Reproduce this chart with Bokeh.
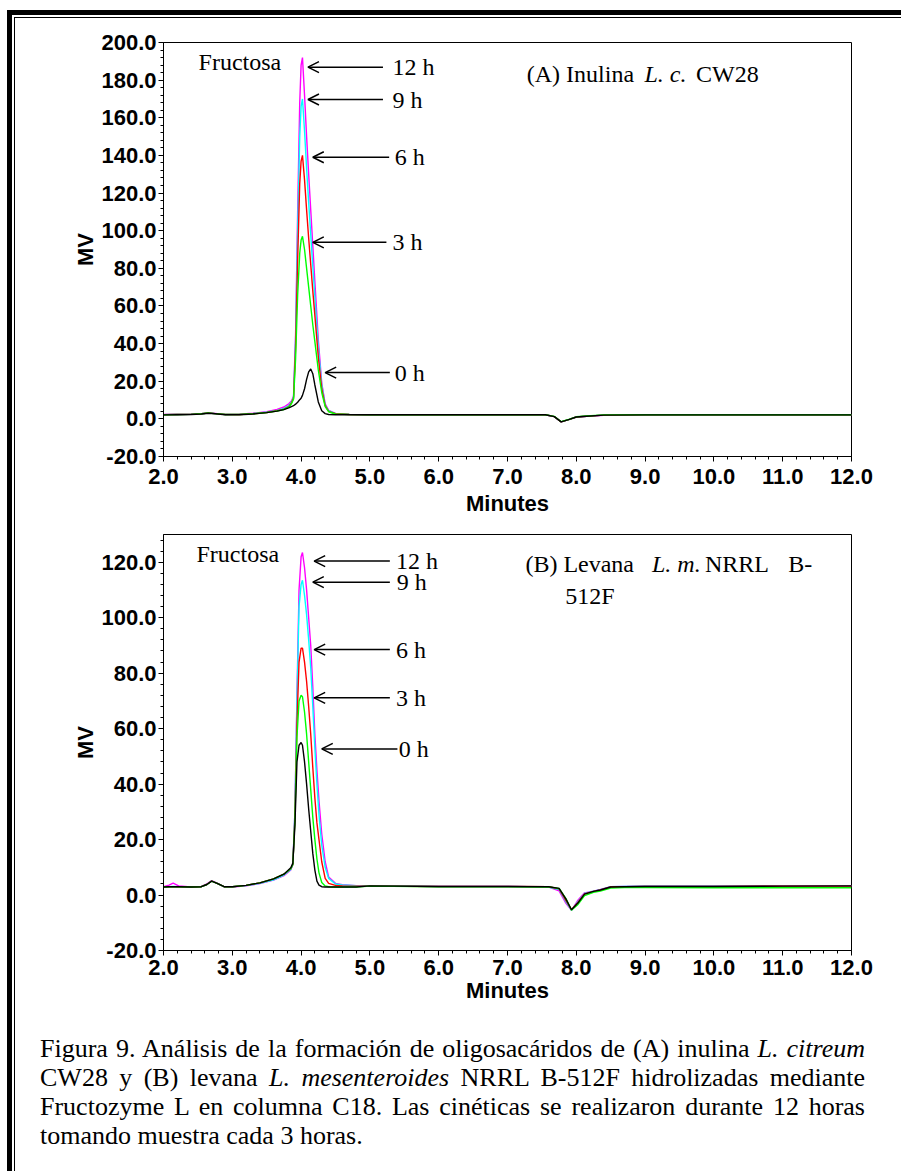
from bokeh.plotting import figure
from bokeh.models import (Range1d, SingleIntervalTicker, NumeralTickFormatter,
                          Arrow, OpenHead, Div, ColumnDataSource)
from bokeh.layouts import column
from bokeh.embed import file_html
from bokeh.resources import INLINE
from bokeh.core.properties import value

SERIF = "Liberation Serif"
SANS = "Liberation Sans"

# ---------------- Data: chart (A) Inulina ----------------
xa = [2.0, 2.2, 2.4, 2.55, 2.65, 2.75, 2.9, 3.1, 3.3, 3.5, 3.65, 3.75, 3.82,
      3.86, 3.89, 3.92, 3.95, 3.98, 4.0, 4.02, 4.05, 4.08, 4.11, 4.14, 4.17, 4.2,
      4.25, 4.3, 4.35, 4.4, 4.5, 4.7, 5.0,
      6.0, 7.0, 7.55, 7.68, 7.78, 7.9, 8.0, 8.15, 8.4, 9.0, 10.0, 11.0, 12.0]
a_12h = [2.3, 2.5, 2.5, 2.8, 3.2, 2.9, 2.4, 2.5, 3.0, 3.8, 5.0, 6.3, 8.0,
         9.5, 12, 45, 110, 168, 188, 192, 172, 150, 130, 111, 92, 73,
         42, 19, 8, 4.5, 2.9, 2.4, 2.2,
         2.2, 2.2, 2.2, 1.2, -1.6, -0.3, 1.0, 1.4, 1.9, 2.0, 2.0, 2.0, 2.0]
a_9h = [2.2, 2.3, 2.4, 2.7, 3.1, 2.8, 2.3, 2.4, 2.8, 3.5, 4.5, 5.6, 7.0,
        9.0, 11.5, 42, 100, 150, 166, 170, 153, 133, 115, 98, 81, 65,
        38, 18, 7.5, 4.3, 2.8, 2.4, 2.2,
        2.2, 2.2, 2.2, 1.2, -1.6, -0.3, 1.0, 1.4, 2.0, 2.1, 2.1, 2.1, 2.1]
a_6h = [2.2, 2.3, 2.4, 2.7, 3.1, 2.8, 2.3, 2.3, 2.7, 3.4, 4.3, 5.2, 6.5,
        8.5, 11, 38, 85, 125, 137, 140, 127, 111, 96, 82, 68, 55,
        33, 16, 7, 4, 2.7, 2.3, 2.2,
        2.2, 2.2, 2.2, 1.2, -1.6, -0.3, 1.0, 1.4, 2.0, 2.1, 2.1, 2.1, 2.1]
a_3h = [2.2, 2.3, 2.4, 2.7, 3.1, 2.8, 2.3, 2.3, 2.7, 3.4, 4.2, 5.0, 6.2,
        8.0, 10.5, 32, 66, 88, 95, 97, 90, 80, 70, 60, 50, 41,
        26, 14, 6.5, 3.8, 2.6, 2.3, 2.2,
        2.2, 2.2, 2.2, 1.3, -1.5, -0.2, 1.1, 1.5, 2.1, 2.2, 2.2, 2.2, 2.2]
a_0h = [2.1, 2.2, 2.3, 2.6, 3.0, 2.7, 2.2, 2.2, 2.6, 3.3, 4.1, 4.9, 5.8,
        6.5, 7.0, 7.8, 8.8, 10.2, 11.0, 12.5, 16, 21, 25, 26.5, 24, 18,
        9, 4.3, 2.8, 2.3, 2.2, 2.2, 2.2,
        2.2, 2.2, 2.2, 1.2, -1.6, -0.3, 1.0, 1.4, 2.0, 2.1, 2.1, 2.1, 2.1]

# ---------------- Data: chart (B) Levana ----------------
xb = [2.0, 2.08, 2.14, 2.22, 2.4, 2.55, 2.63, 2.7, 2.78, 2.88, 3.0, 3.2, 3.4, 3.6, 3.75, 3.85,
      3.88, 3.91, 3.94, 3.97, 4.0, 4.02, 4.05, 4.08, 4.11, 4.14, 4.17, 4.2, 4.23, 4.26,
      4.3, 4.35, 4.4, 4.5, 4.6, 4.8,
      5.0, 6.0, 7.0, 7.6, 7.75, 7.85, 7.93, 8.02, 8.12, 8.25, 8.35, 8.5, 8.7, 9.0, 10.0, 11.0, 12.0]
b_12h = [3.0, 3.6, 4.3, 3.3, 2.9, 3.1, 4.0, 5.2, 4.3, 3.0, 2.9, 3.3, 4.1, 5.4, 7.0, 9.0,
         11, 30, 72, 110, 122, 123.5, 118, 110, 100, 90, 75, 58, 45, 34,
         22, 12, 6.5, 4.2, 3.7, 3.4,
         3.3, 3.1, 3.1, 2.9, 1.5, -3.0, -5.5, -2.0, 0.8, 1.4, 2.0, 3.0, 3.1, 3.2, 3.2, 3.2, 3.3]
b_9h = [2.9, 3.0, 3.1, 3.0, 2.9, 3.0, 3.8, 5.0, 4.2, 3.0, 3.0, 3.4, 4.2, 5.5, 7.2, 9.2,
        11, 30, 70, 104, 112, 113.5, 108, 101, 92, 82, 68, 53, 40, 29,
        18, 10, 6, 4.0, 3.6, 3.4,
        3.3, 3.1, 3.1, 2.9, 2.0, -2.5, -5.4, -2.5, 0.6, 1.4, 1.9, 3.0, 3.1, 3.2, 3.2, 3.2, 3.3]
b_6h = [2.9, 3.0, 3.0, 3.0, 2.9, 3.0, 3.8, 5.0, 4.2, 3.0, 3.0, 3.5, 4.4, 5.8, 7.5, 9.5,
        11, 28, 62, 84, 89, 89, 84, 77, 68, 58, 46, 35, 26, 20,
        12, 6, 4.2, 3.5, 3.3, 3.2,
        3.2, 3.1, 3.1, 3.0, 2.2, -2.0, -5.3, -2.8, 0.4, 1.3, 1.8, 2.9, 3.0, 3.1, 3.1, 3.2, 3.2]
b_3h = [2.9, 3.0, 3.0, 3.0, 2.9, 3.0, 3.8, 5.0, 4.2, 3.0, 3.0, 3.5, 4.4, 5.8, 7.5, 9.5,
        11, 27, 57, 70, 72, 71.5, 66, 58, 48, 38, 28, 20, 13, 8,
        4.5, 3.3, 3.0, 2.9, 2.9, 2.9,
        3.2, 3.0, 3.0, 2.9, 2.4, -1.3, -5.5, -3.5, -0.2, 1.0, 1.4, 2.5, 2.7, 2.7, 2.6, 2.6, 2.6]
b_0h = [2.9, 3.0, 3.0, 3.0, 2.9, 3.0, 3.8, 5.0, 4.2, 3.0, 3.0, 3.5, 4.4, 5.8, 7.5, 9.8,
        11.5, 25, 48, 54, 55, 54, 48, 40, 31, 23, 15, 9, 5, 3.6,
        3.0, 2.9, 2.9, 2.9, 2.9, 2.9,
        3.3, 3.1, 3.1, 3.0, 2.4, -1.5, -5.3, -3.0, 0.3, 1.3, 1.8, 2.9, 3.0, 3.1, 3.1, 3.2, 3.3]

series_names = ["12 h", "9 h", "6 h", "3 h", "0 h"]
series_colors = ["#ff00ff", "#00ffff", "#ff0000", "#00ff00", "#000000"]

# arrow annotations (tail x, head x, y, text x)
a_arrow_y = [186.9, 169.7, 139.0, 93.8, 24.6]
a_arrow_head = [4.10, 4.10, 4.17, 4.17, 4.35]
a_arrow_tail = [5.19, 5.19, 5.28, 5.24, 5.29]
a_label_x = [5.33, 5.33, 5.36, 5.33, 5.36]

b_arrow_y = [120.4, 112.8, 88.5, 71.1, 52.7]
b_arrow_head = [4.19, 4.17, 4.19, 4.19, 4.30]
b_arrow_tail = [5.29, 5.29, 5.29, 5.29, 5.40]
b_label_x = [5.38, 5.39, 5.38, 5.38, 5.42]


def style_axes(p, xlab_standoff, xaxis_standoff):
    for ax in (p.xaxis[0], p.yaxis[0]):
        ax.axis_line_color = "black"
        ax.axis_line_width = 1
        ax.major_tick_line_color = "black"
        ax.minor_tick_line_color = "black"
        ax.major_tick_in = 0
        ax.major_tick_out = 5
        ax.minor_tick_in = 0
        ax.minor_tick_out = 3
        ax.major_label_text_font = SANS
        ax.major_label_text_font_style = "bold"
        ax.major_label_text_font_size = "22px"
        ax.major_label_text_color = "black"
        ax.axis_label_text_font = SANS
        ax.axis_label_text_font_style = "bold"
        ax.axis_label_text_font_size = "22px"
        ax.axis_label_text_color = "black"
        ax.formatter = NumeralTickFormatter(format="0.0")
    p.xaxis[0].ticker = SingleIntervalTicker(interval=1, num_minor_ticks=5)
    p.yaxis[0].ticker = SingleIntervalTicker(interval=20, num_minor_ticks=5)
    p.xaxis[0].major_label_standoff = xlab_standoff
    p.xaxis[0].axis_label_standoff = xaxis_standoff
    p.yaxis[0].major_label_standoff = 2
    p.yaxis[0].axis_label_standoff = 0
    p.xaxis[0].axis_label = "Minutes"
    p.yaxis[0].axis_label = "MV"


def make_chart(xs, ys_list, ymax, height, top, bottom, xls, xas,
               arr_y, arr_head, arr_tail, lab_x):
    p = figure(width=886, height=height, x_range=Range1d(2, 12), y_range=Range1d(-20, ymax),
               output_backend="svg", toolbar_location=None,
               min_border_left=148, min_border_right=50,
               min_border_top=top, min_border_bottom=bottom)
    p.grid.visible = False
    p.outline_line_color = "black"
    p.outline_line_width = 1
    p.background_fill_color = "white"
    p.border_fill_color = "white"
    style_axes(p, xls, xas)
    for ys, c in zip(ys_list, series_colors):
        p.line(xs, ys, line_color=c, line_width=1.4)
    for i in range(len(arr_y)):
        p.add_layout(Arrow(end=OpenHead(size=11, line_width=1.5, line_color="black"),
                           x_start=arr_tail[i], y_start=arr_y[i],
                           x_end=arr_head[i], y_end=arr_y[i],
                           line_width=1.5, line_color="black"))
    src = ColumnDataSource(dict(x=lab_x, y=arr_y, t=series_names))
    p.text(x="x", y="y", text="t", source=src, text_font=value(SERIF),
           text_font_size="24px", text_baseline="middle", text_align="left", text_color="black")
    return p


pA = make_chart(xa, [a_12h, a_9h, a_6h, a_3h, a_0h], 200, 505, 24, 67, 7, 4,
                a_arrow_y, a_arrow_head, a_arrow_tail, a_label_x)
pB = make_chart(xb, [b_12h, b_9h, b_6h, b_3h, b_0h], 130, 494, 11, 67, 4, 0,
                b_arrow_y, b_arrow_head, b_arrow_tail, b_label_x)


def put(p, x, y, t, italic=False):
    p.text(x=[x], y=[y], text=[t], text_font=value(SERIF), text_font_size="24px",
           text_font_style="italic" if italic else "normal",
           text_baseline="middle", text_align="left", text_color="black")


put(pA, 2.51, 189.6, "Fructosa")
put(pA, 7.28, 183.0, "(A) Inulina")
put(pA, 8.99, 183.0, "L. c.", italic=True)
put(pA, 9.74, 183.0, "CW28")

put(pB, 2.48, 122.9, "Fructosa")
put(pB, 7.26, 119.3, "(B) Levana")
put(pB, 9.10, 119.3, "L. m.", italic=True)
put(pB, 9.87, 119.3, "NRRL")
put(pB, 11.08, 119.3, "B-")
put(pB, 7.84, 107.7, "512F")

line_style = ("text-align:justify;text-align-last:justify;")
caption_html = (
    '<div style="margin-left:20px;width:825px;font-family:\'Liberation Serif\';'
    'font-size:26px;line-height:29px;color:black;padding-top:12px;">'
    '<div style="' + line_style + '">Figura 9. Análisis de la formación de oligosacáridos de (A) inulina <i>L. citreum</i></div>'
    '<div style="' + line_style + '">CW28 y (B) levana <i>L. mesenteroides</i> NRRL B-512F hidrolizadas mediante</div>'
    '<div style="' + line_style + '">Fructozyme L en columna C18. Las cinéticas se realizaron durante 12 horas</div>'
    '<div style="text-align:left;">tomando muestra cada 3 horas.</div>'
    '</div>'
)
cap = Div(text=caption_html, width=886, height=154)

inner = column(pA, pB, cap, styles={"border-top": "1px solid black", "border-left": "1px solid black"})
outer = column(inner, margin=(10, 0, 0, 7),
               styles={"border-top": "5px solid black", "border-left": "5px solid black",
                       "padding-top": "2px", "padding-left": "2px"})

open("out.html", "w").write(file_html(outer, INLINE))
